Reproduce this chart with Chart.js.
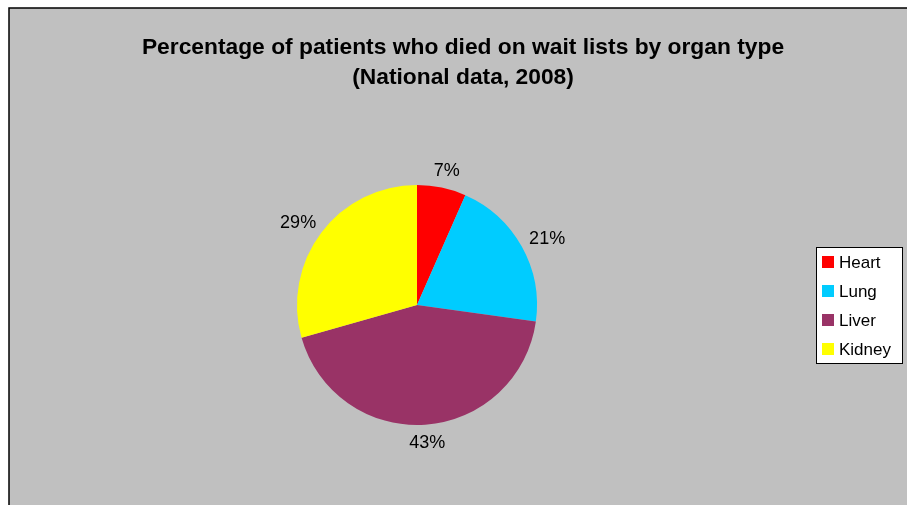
<!DOCTYPE html>
<html>
<head>
<meta charset="utf-8">
<script src="https://cdn.jsdelivr.net/npm/chart.js@4"></script>
<style>
  html, body { margin:0; padding:0; background:#fff; }
  #wrap { width:907px; height:505px; }
</style>
</head>
<body>
<div id="wrap"><canvas id="piechart" width="907" height="505"></canvas></div>
<script>
var organs = ["Heart", "Lung", "Liver", "Kidney"];
var percents = [6.6, 20.6, 43.4, 29.4];
var colours = ["#FF0000", "#00CCFF", "#993366", "#FFFF00"];
var titleLines = ["Percentage of patients who died on wait lists by organ type", "(National data, 2008)"];

var fontName = "'Liberation Sans', Arial, sans-serif";

// background, frame and title
var framePlugin = {
    id: "frame",
    beforeDraw: function(chart){
        var c = chart.ctx;
        c.save();
        c.fillStyle = "#ffffff";
        c.fillRect(0, 0, chart.width, chart.height);
        c.fillStyle = "#C0C0C0";
        c.fillRect(9, 8, chart.width - 9, chart.height - 8);
        c.strokeStyle = "#000000";
        c.lineWidth = 1.5;
        c.beginPath();
        c.moveTo(9, chart.height);
        c.lineTo(9, 8);
        c.lineTo(chart.width, 8);
        c.stroke();
        c.fillStyle = "#000000";
        c.font = "bold 22.8px " + fontName;
        c.textAlign = "center";
        c.textBaseline = "middle";
        c.fillText(titleLines[0], 463, 48);
        c.fillText(titleLines[1], 463, 78);
        c.restore();
    }
};

// percent labels outside the slices + boxed legend
var labelPlugin = {
    id: "labels",
    afterDraw: function(chart){
        var c = chart.ctx;
        var meta = chart.getDatasetMeta(0);
        c.save();
        c.font = "18px " + fontName;
        c.fillStyle = "#000000";
        c.textAlign = "center";
        c.textBaseline = "middle";
        meta.data.forEach(function(arc, i){
            var txt = Math.round(percents[i]) + "%";
            var halfW = c.measureText(txt).width / 2;
            var halfH = 6.5;
            var mid = (arc.startAngle + arc.endAngle) / 2;
            var r = arc.outerRadius + 11;
            var dx = Math.cos(mid), dy = Math.sin(mid);
            var x = arc.x + dx * (r + halfW);
            var y = arc.y + dy * (r + halfH);
            c.fillText(txt, x, y + 1);
        });

        // legend
        var lx = 816, ly = 247, lw = 86, lh = 116;
        c.fillStyle = "#ffffff";
        c.fillRect(lx, ly, lw, lh);
        c.strokeStyle = "#000000";
        c.lineWidth = 1;
        c.strokeRect(lx + 0.5, ly + 0.5, lw, lh);
        c.textAlign = "left";
        c.font = "17px " + fontName;
        organs.forEach(function(name, i){
            var yy = ly + 15 + i * 29;
            c.fillStyle = colours[i];
            c.fillRect(lx + 6, yy - 6, 12, 12);
            c.fillStyle = "#000000";
            c.fillText(name, lx + 23, yy + 1);
        });
        c.restore();
    }
};

var ctx = document.getElementById("piechart");
var chart = new Chart(ctx, {
    type: "pie",
    data: {
        labels: organs,
        datasets: [{
            data: percents,
            backgroundColor: colours,
            borderWidth: 0
        }]
    },
    options: {
        responsive: false,
        animation: false,
        layout: { padding: { left: 297, right: 370, top: 185, bottom: 80 } },
        plugins: {
            legend: { display: false },
            title: { display: false },
            tooltip: { enabled: false }
        }
    },
    plugins: [framePlugin, labelPlugin]
});
</script>
</body>
</html>
